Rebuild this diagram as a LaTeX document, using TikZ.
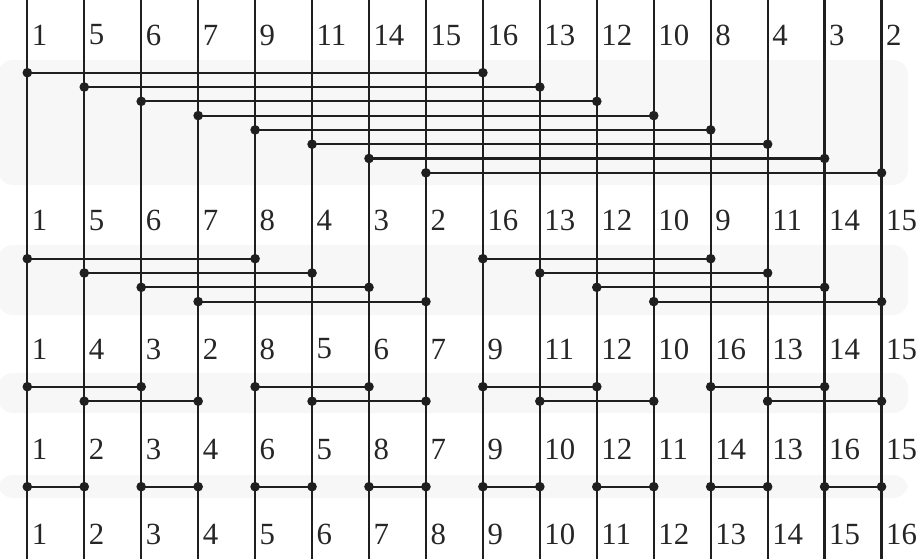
\documentclass[tikz,border=0pt]{standalone}
\usepackage{fontspec}
\setmainfont{Liberation Serif}
\begin{document}
\begin{tikzpicture}[x=0.5pt,y=-0.5pt,
  wire/.style={line width=1.15pt,black!88},
  conn/.style={line width=1.05pt,black!88},
  dot/.style={circle,fill=black!88,inner sep=0pt,minimum size=4.8pt},
  band/.style={fill=black!3,draw=none,rounded corners=7.5pt},
  lab/.style={anchor=west,inner sep=0pt,text=black!85,font=\fontsize{15.4}{17}\selectfont}]
\useasboundingbox (0,0) rectangle (918,559);
% stage bands
\fill[band] (-2,60) rectangle (908,185);
\fill[band] (-2,245) rectangle (908,315);
\fill[band] (-2,373) rectangle (908,413);
\fill[band] (-2,475) rectangle (908,498);
% vertical wires
\foreach \i in {0,...,15} {
  \pgfmathsetmacro\xx{27.3+\i*56.95}
  \coordinate (top\i) at (\xx,0);
  \coordinate (bot\i) at (\xx,559);
  \draw[wire] (top\i) -- (bot\i);
}
% comparators
\foreach \i/\j/\y [count=\n] in {
  0/8/72.7, 1/9/87.0, 2/10/101.3, 3/11/115.6, 4/12/129.9, 5/13/144.2, 6/14/158.5, 7/15/172.8,
  0/4/258.7, 8/12/258.7, 1/5/273.0, 9/13/273.0, 2/6/287.3, 10/14/287.3, 3/7/301.6, 11/15/301.6,
  0/2/386.7, 4/6/386.7, 8/10/386.7, 12/14/386.7,
  1/3/401.2, 5/7/401.2, 9/11/401.2, 13/15/401.2,
  0/1/486.7, 2/3/486.7, 4/5/486.7, 6/7/486.7, 8/9/486.7, 10/11/486.7, 12/13/486.7, 14/15/486.7} {
  \pgfmathsetmacro\xa{27.3+\i*56.95}
  \pgfmathsetmacro\xb{27.3+\j*56.95}
  \node[dot] (L\n) at (\xa,\y) {};
  \node[dot] (R\n) at (\xb,\y) {};
  \draw[conn] (L\n.center) -- (R\n.center);
}
% labels
\foreach \row/\y/\labels in {
  a/35/{1,5,6,7,9,11,14,15,16,13,12,10,8,4,3,2},
  b/220.3/{1,5,6,7,8,4,3,2,16,13,12,10,9,11,14,15},
  c/349/{1,4,3,2,8,5,6,7,9,11,12,10,16,13,14,15},
  d/449.7/{1,2,3,4,6,5,8,7,9,10,12,11,14,13,16,15},
  e/534.5/{1,2,3,4,5,6,7,8,9,10,11,12,13,14,15,16}} {
  \foreach \t [count=\k from 0] in \labels {
    \pgfmathsetmacro\xt{27.3+\k*56.95+4.2}
    \node[lab] (lab\row\k) at (\xt,\y) {\t};
  }
}
\end{tikzpicture}
\end{document}
